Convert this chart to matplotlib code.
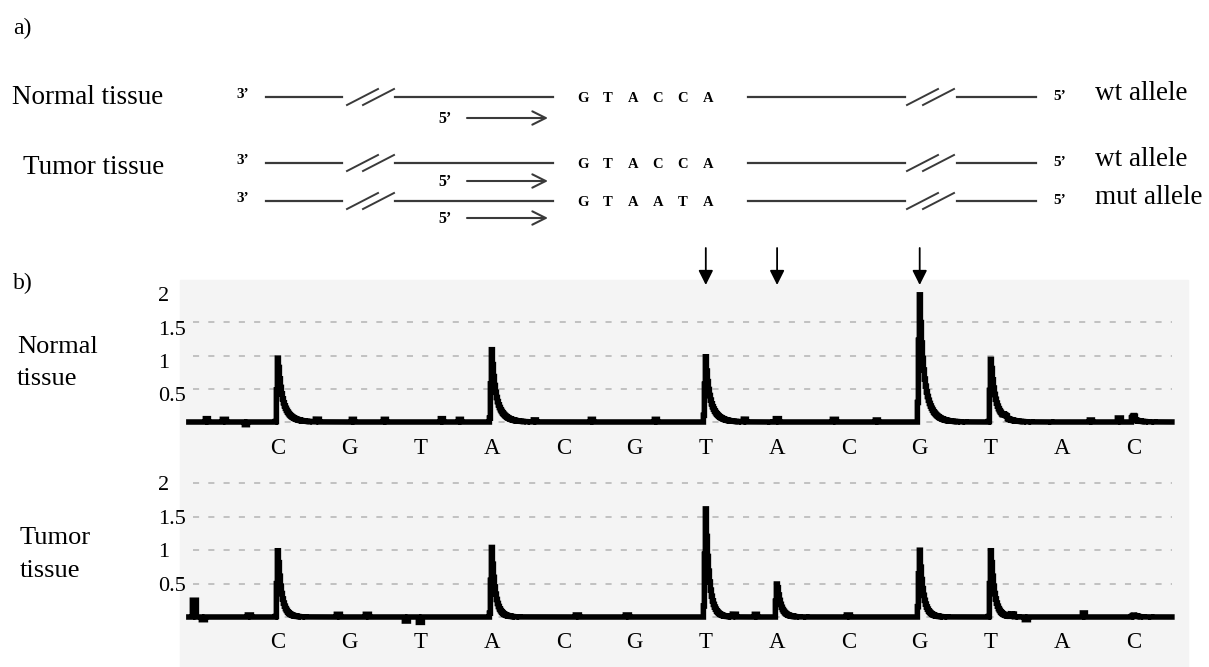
import numpy as np
import matplotlib
matplotlib.use("Agg")
from matplotlib import pyplot as plt
from matplotlib.patches import Rectangle

plt.rcParams['font.family'] = ['Liberation Serif', 'DejaVu Serif']

W, H = 1209, 667

# dispensation order and peak heights
flows = ['C', 'G', 'T', 'A', 'C', 'G', 'T', 'A', 'C', 'G', 'T', 'A', 'C']
normal_peaks = [1.02, 0, 0, 1.1, 0, 0, 1.0, 0, 0, 2.0, 1.0, 0, 0.05]
tumor_peaks = [1.05, 0, 0, 1.05, 0, 0, 1.65, 0.55, 0, 1.05, 1.05, 0, 0.03]
# small baseline blips (flow position, height)
normal_blips = [(-1.0, 0.05), (-0.75, 0.04), (-0.45, -0.04), (0.55, 0.04), (1.05, 0.04),
                (1.5, 0.04), (2.3, 0.05), (2.55, 0.04), (3.6, 0.03), (4.4, 0.04),
                (5.3, 0.04), (6.55, 0.04), (7.0, 0.05), (7.8, 0.04), (8.4, 0.03),
                (10.2, 0.03), (11.4, 0.03), (11.8, 0.06), (12.0, 0.05)]
tumor_blips = [(-1.17, 0.25), (-1.05, -0.04), (-0.4, 0.03), (0.85, 0.04), (1.25, 0.04),
               (1.8, -0.06), (2.0, -0.08), (4.2, 0.03), (4.9, 0.03), (6.4, 0.04),
               (6.7, 0.04), (8.0, 0.03), (10.3, 0.04), (10.5, -0.04), (11.3, 0.06)]
arrow_flows = [6, 7, 9]

# part a) rows: y pixel of template line, sequence, allele label, primer arrow y
rows = [(97, 'GTACCA', 'wt allele', 118),
        (163, 'GTACCA', 'wt allele', 181),
        (201, 'GTAATA', 'mut allele', 218)]

fig = plt.figure(figsize=(W / 100, H / 100), dpi=100)

# overlay in pixel coordinates (y down) for the scheme and the labels
ov = fig.add_axes([0, 0, 1, 1], zorder=0)
ov.set_xlim(0, W)
ov.set_ylim(H, 0)
ov.axis('off')

LC = '#3a3a3a'


def brk(x, y):
    for dx in (0, 16):
        ov.plot([x + dx, x + dx + 31], [y + 8, y - 8], color=LC, lw=1.4)


ov.text(13, 28, 'a)', fontsize=17, va='center')
ov.text(12, 98, 'Normal tissue', fontsize=19.5, va='center')
ov.text(23, 167, 'Tumor tissue', fontsize=19.5, va='center')

for y, seq, lab, ay in rows:
    ov.text(236, y - 2, '3\u2019', fontsize=11, fontweight='bold', va='center')
    ov.plot([266, 342], [y, y], color=LC, lw=1.6)
    brk(347, y)
    ov.plot([395, 553], [y, y], color=LC, lw=1.6)
    for k, ch in enumerate(seq):
        ov.text(583 + 25 * k, y + 1, ch, fontsize=10.5, fontweight='bold',
                ha='center', va='center')
    ov.plot([748, 905], [y, y], color=LC, lw=1.6)
    brk(907, y)
    ov.plot([957, 1036], [y, y], color=LC, lw=1.6)
    ov.text(1053, y, '5\u2019', fontsize=11, fontweight='bold', va='center')
    ov.text(1095, y - 3, lab, fontsize=19.5, va='center')
    ov.text(438, ay + 1, '5\u2019', fontsize=11.5, fontweight='bold', va='center')
    ov.annotate('', xy=(548, ay), xytext=(467, ay),
                arrowprops=dict(arrowstyle='->', color=LC, lw=1.5,
                                mutation_scale=24, shrinkA=0, shrinkB=0))

# part b) pyrograms
ov.text(13, 283, 'b)', fontsize=17, va='center')
ov.text(17, 347, 'Normal', fontsize=19, va='center')
ov.text(17, 379, 'tissue', fontsize=19, va='center')
ov.text(20, 538, 'Tumor', fontsize=19, va='center')
ov.text(20, 571, 'tissue', fontsize=19, va='center')

ov.add_patch(Rectangle((180, 280), 1188 - 180, H - 280, color='#f4f4f4', zorder=0))

x0px, xstep = 278, 71.3

for i in arrow_flows:
    xp = x0px + xstep * i
    ov.annotate('', xy=(xp, 285), xytext=(xp, 248),
                arrowprops=dict(arrowstyle='-|>', color='black', lw=1.3,
                                mutation_scale=22, shrinkA=0, shrinkB=0))


def make_ax(base_px, top_px, bot_px, scale):
    left = (180 - x0px) / xstep
    right = (1188 - x0px) / xstep
    ax = fig.add_axes([180 / W, 1 - bot_px / H, (1188 - 180) / W, (bot_px - top_px) / H],
                      zorder=1)
    ax.set_xlim(left, right)
    ax.set_ylim((base_px - bot_px) / scale, (base_px - top_px) / scale)
    ax.axis('off')
    ax.patch.set_alpha(0)
    return ax


def trace(peaks, blips, tau):
    x = np.arange(-1.25, 12.55, 1 / xstep)
    y = np.zeros_like(x)
    for i, h in enumerate(peaks):
        dx = x - i
        post = dx >= 0
        y[post] += h * (0.45 * np.exp(-dx[post] / 0.035) + 0.55 * np.exp(-dx[post] / tau))
        pre = (dx < 0) & (dx > -0.03)
        y[pre] += h * (1 + dx[pre] / 0.03)
    for p, h in blips:
        y[np.abs(x - p) < 0.025] += h
    return x, y


panels = [
    (normal_peaks, normal_blips, 0.1, 422, 280, 440, 66.5, [0, 0.5, 1, 1.5], 0.12, 448),
    (tumor_peaks, tumor_blips, 0.065, 617, 462, 667, 67, [0, 0.5, 1, 1.5, 2], 0.04, 642),
]
for peaks, blips, tau, base, top, bot, sc, grid, off, lab_y in panels:
    ax = make_ax(base, top, bot, sc)
    gx0, gx1 = (193 - x0px) / xstep, (1172 - x0px) / xstep
    for g in grid:
        ax.plot([gx0, gx1], [g, g], color='#b4b4b4', lw=1.1, dashes=(4, 6), zorder=1)
    for v, s in zip([2, 1.5, 1, 0.5], ['2', '1.5', '1', '0.5']):
        ax.text((158 - x0px) / xstep, v - off, s, fontsize=16, va='center', clip_on=False)
    x, y = trace(peaks, blips, tau)
    ax.plot(x, y, color='black', lw=4, drawstyle='steps-mid', zorder=3,
            solid_joinstyle='miter')
    for i, ch in enumerate(flows):
        ax.text(i, (base - lab_y) / sc, ch, fontsize=16.5, ha='center', va='center',
                clip_on=False)

fig.savefig('out.png', dpi=100)
